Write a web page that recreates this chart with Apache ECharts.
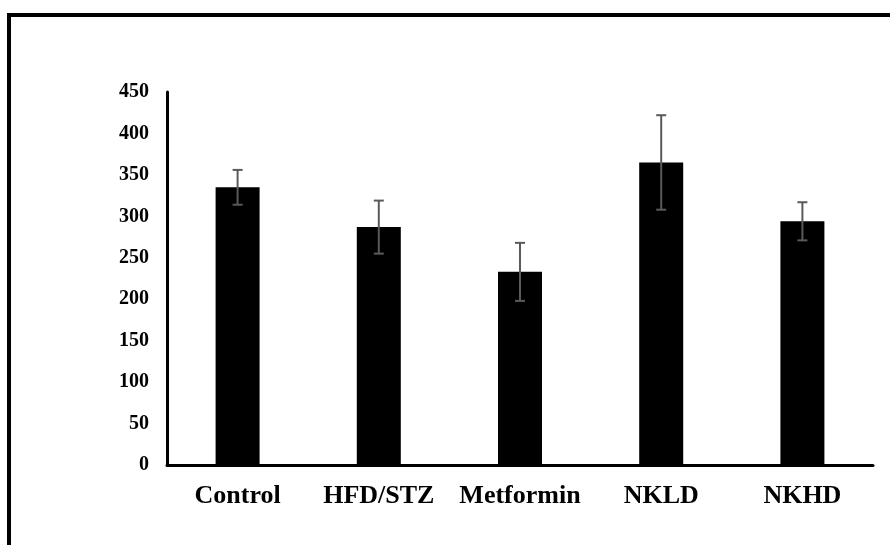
<!DOCTYPE html>
<html>
<head>
<meta charset="utf-8">
<style>
  html, body { margin: 0; padding: 0; background: #fff; }
  #chart { width: 890px; height: 545px; }
</style>
<script src="https://cdn.jsdelivr.net/npm/echarts@6/dist/echarts.min.js"></script>
</head>
<body>
<div id="chart"></div>
<script>
// Group names on the x axis
const categories = ['Control', 'HFD/STZ', 'Metformin', 'NKLD', 'NKHD'];
// Group means
const means = [335, 287, 233, 365, 294];
// Error half-widths (±)
const errors = [21, 32, 35, 57, 23];
// Y axis range and step
const yMin = 0;
const yMax = 450;
const yStep = 50;

const chart = echarts.init(document.getElementById('chart'), null, { renderer: 'canvas' });

const errorData = categories.map((c, i) => [i, means[i] - errors[i], means[i] + errors[i]]);

const serif = '"Liberation Serif", "Times New Roman", serif';

chart.setOption({
  animation: false,
  backgroundColor: '#ffffff',
  graphic: [{
    type: 'rect',
    shape: { x: 9, y: 15, width: 1000, height: 1000 },
    style: { fill: 'none', stroke: '#000', lineWidth: 4 },
    silent: true,
    z: 100
  }],
  grid: { left: 167, top: 92, right: 17, bottom: 80, containLabel: false },
  xAxis: {
    type: 'category',
    data: categories,
    axisLine: { show: true, lineStyle: { color: '#000', width: 3 } },
    axisTick: { show: false },
    axisLabel: {
      interval: 0,
      hideOverlap: false,
      color: '#000',
      fontFamily: serif,
      fontWeight: 'bold',
      fontSize: 26,
      margin: 18
    },
    splitLine: { show: false }
  },
  yAxis: {
    type: 'value',
    min: yMin,
    max: yMax,
    interval: yStep,
    axisLine: { show: true, lineStyle: { color: '#000', width: 3 } },
    axisTick: { show: false },
    axisLabel: {
      color: '#000',
      fontFamily: serif,
      fontWeight: 'bold',
      fontSize: 20,
      margin: 18
    },
    splitLine: { show: false }
  },
  series: [
    {
      type: 'bar',
      data: means,
      barWidth: 44,
      itemStyle: { color: '#000' },
      z: 2
    },
    {
      type: 'custom',
      data: errorData,
      z: 3,
      renderItem: function (params, api) {
        const x = api.value(0);
        const lo = api.coord([x, api.value(1)]);
        const hi = api.coord([x, api.value(2)]);
        const cap = 5;
        const style = { stroke: '#5a5a5a', lineWidth: 2 };
        return {
          type: 'group',
          children: [
            { type: 'line', shape: { x1: hi[0], y1: hi[1], x2: lo[0], y2: lo[1] }, style: style },
            { type: 'line', shape: { x1: hi[0] - cap, y1: hi[1], x2: hi[0] + cap, y2: hi[1] }, style: style },
            { type: 'line', shape: { x1: lo[0] - cap, y1: lo[1], x2: lo[0] + cap, y2: lo[1] }, style: style }
          ]
        };
      }
    }
  ]
});
</script>
</body>
</html>
